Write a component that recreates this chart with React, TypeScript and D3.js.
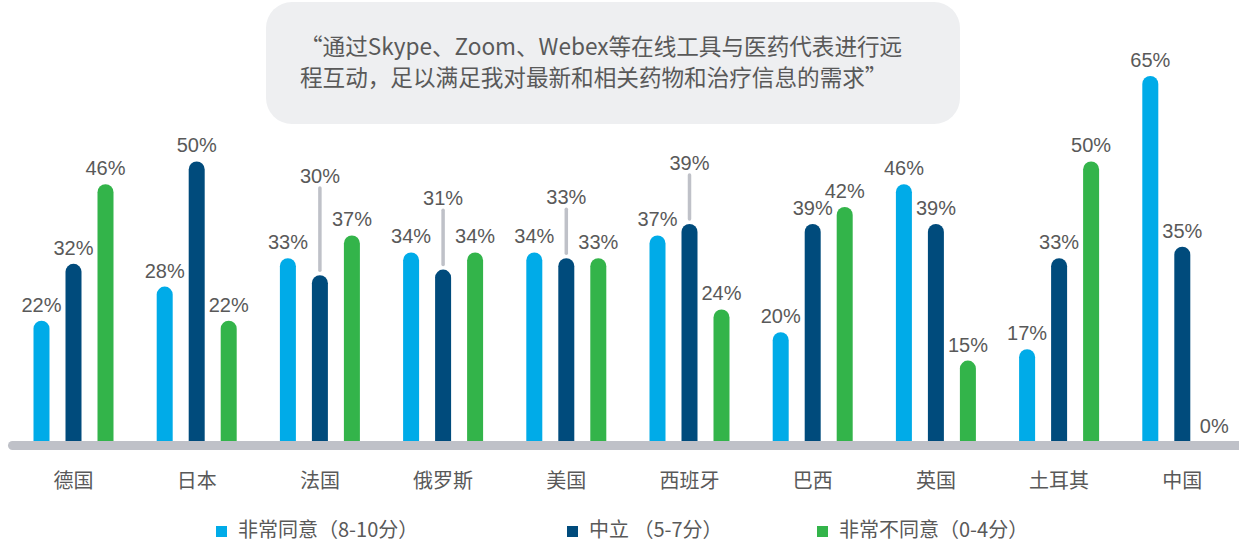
import React from "react";
import * as d3 from "d3";

const categories = ["德国", "日本", "法国", "俄罗斯", "美国", "西班牙", "巴西", "英国", "土耳其", "中国"];
const seriesNames = ["非常同意（8-10分）", "中立 （5-7分）", "非常不同意（0-4分）"];
const agree = [22, 28, 33, 34, 34, 37, 20, 46, 17, 65];
const neutral = [32, 50, 30, 31, 33, 39, 39, 39, 33, 35];
const disagree = [46, 22, 37, 34, 33, 24, 42, 15, 50, 0];
// label level (in % units) for labels lifted above with a leader line (neutral series)
const neutralLabelLevel: (number | null)[] = [null, null, 44.6, 40.7, 40.9, 46.9, null, null, null, null];
const titleLines = [
  "“通过Skype、Zoom、Webex等在线工具与医药代表进行远",
  "程互动，足以满足我对最新和相关药物和治疗信息的需求”",
];

const COLORS = ["#00abe8", "#004b7c", "#33b44a"];
const TEXT = "#595959";
const GRAY = "#bfc1c8";
const W = 1239;
const H = 542;

export default function App() {
  const series = [agree, neutral, disagree];
  const y = d3.scaleLinear().domain([0, 65]).range([446, 76]);
  const x0 = d3.scaleBand<string>().domain(categories).range([11.9, 11.9 + 123.2 * 10]).paddingInner(0).paddingOuter(0);
  const barW = 16;
  const cx = (ci: number, si: number) => {
    const groupC = (x0(categories[ci]) as number) + x0.bandwidth() / 2;
    return groupC + (si - 1) * 32;
  };
  const legendX = [216, 567, 817];
  const valueFont = "'Liberation Sans', Arial, sans-serif";
  const cjkFont = "'Noto Sans CJK SC', 'Noto Sans', sans-serif";

  return (
    <svg width={W} height={H} style={{ position: "absolute", left: 0, top: 0, background: "#fff" }}>
      {/* title box */}
      <rect x={266} y={2} width={694} height={122} rx={26} fill="#eeeff1" />
      {titleLines.map((t, i) => (
        <text key={i} x={300} y={55 + i * 31} fontFamily={cjkFont} fontSize={22.6} fill={TEXT}>
          {t}
        </text>
      ))}

      {/* bars */}
      {series.map((vals, si) =>
        vals.map((v, ci) => {
          if (v <= 0) return null;
          const c = cx(ci, si);
          const top = y(v);
          return (
            <rect key={`b${si}-${ci}`} x={c - barW / 2} y={top} width={barW} height={y(0) - top + 3} rx={8} fill={COLORS[si]} />
          );
        })
      )}

      {/* axis line */}
      <rect x={8} y={441} width={1250} height={9} rx={4.5} fill={GRAY} />

      {/* value labels */}
      {series.map((vals, si) =>
        vals.map((v, ci) => {
          const c = cx(ci, si);
          const lifted = si === 1 ? neutralLabelLevel[ci] : null;
          const top = y(v);
          if (lifted != null) {
            const lb = y(lifted) - 9;
            return (
              <g key={`l${si}-${ci}`}>
                <line x1={c} x2={c} y1={lb + 5} y2={top - 5} stroke={GRAY} strokeWidth={3.5} strokeLinecap="round" />
                <text x={c} y={lb} textAnchor="middle" fontFamily={valueFont} fontSize={20} fill={TEXT}>
                  {v}%
                </text>
              </g>
            );
          }
          return (
            <text key={`l${si}-${ci}`} x={c} y={v === 0 ? 433 : top - 9} textAnchor="middle" fontFamily={valueFont} fontSize={20} fill={TEXT}>
              {v}%
            </text>
          );
        })
      )}

      {/* category labels */}
      {categories.map((c, ci) => (
        <text key={c} x={cx(ci, 1)} y={488} textAnchor="middle" fontFamily={cjkFont} fontSize={20} fill={TEXT}>
          {c}
        </text>
      ))}

      {/* legend */}
      {seriesNames.map((n, i) => (
        <g key={n}>
          <rect x={legendX[i]} y={526} width={11} height={11} fill={COLORS[i]} />
          <text x={legendX[i] + 22} y={536.5} fontFamily={cjkFont} fontSize={20} fill={TEXT}>
            {n}
          </text>
        </g>
      ))}
    </svg>
  );
}
